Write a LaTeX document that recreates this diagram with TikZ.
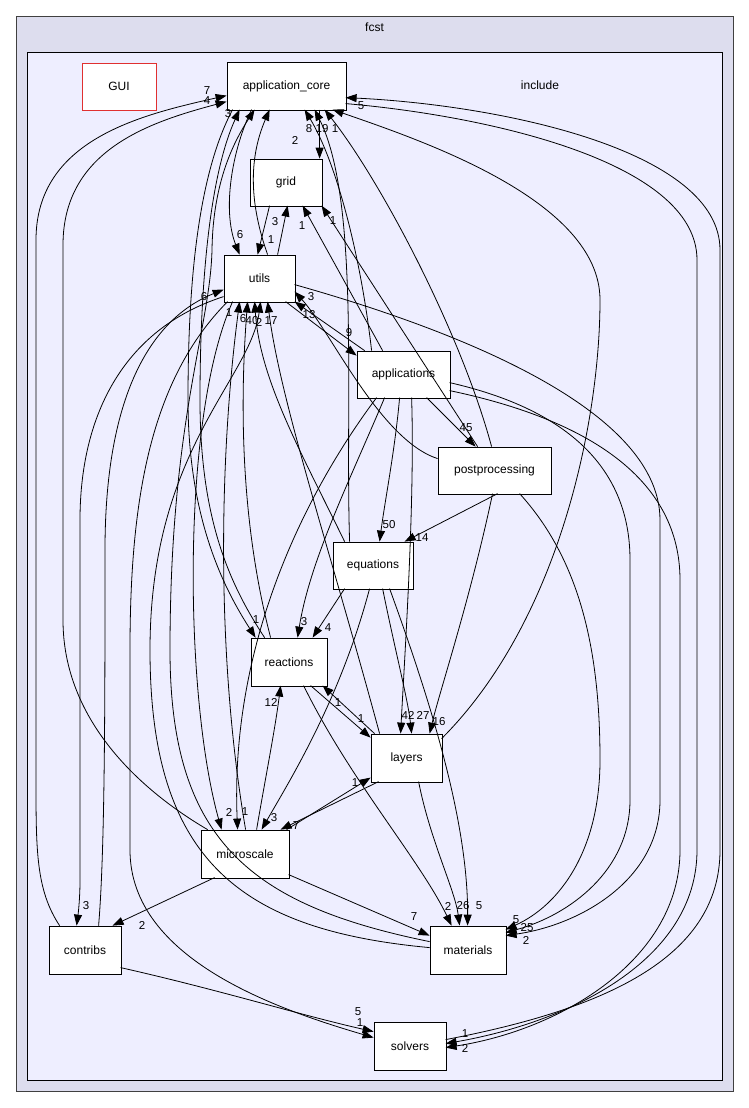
\documentclass[tikz,border=0pt]{standalone}
\usepackage{fontspec}
\setmainfont{Liberation Sans}
\usetikzlibrary{arrows.meta,calc}
\definecolor{outerbg}{HTML}{DDDDEE}
\definecolor{innerbg}{HTML}{EEEEFF}
\definecolor{guired}{HTML}{E03030}
\tikzset{
  box/.style={draw=black, fill=white, line width=0.8pt, inner sep=0pt, minimum height=47pt, font=\fontsize{12}{14}\selectfont},
  dep/.style={line width=0.8pt, -{Triangle[length=11pt,width=8pt]}},
  lbl/.style={font=\fontsize{11.5}{13}\selectfont, inner sep=0pt},
  cluster/.style={inner sep=0pt, line width=0.9pt}
}
\begin{document}
\begin{tikzpicture}[x=1pt,y=-1pt]
\useasboundingbox (0,0) rectangle (749,1108);
\node[cluster, draw=black!75, fill=outerbg, minimum width=717pt, minimum height=1075pt] (fcst) at (374.5,553.5) {};
\node[lbl, font=\fontsize{12}{14}\selectfont] (fcstlbl) at (374.5,27) {fcst};
\node[cluster, draw=black, fill=innerbg, minimum width=695pt, minimum height=1028pt] (include) at (374.5,566) {};
\node[lbl, font=\fontsize{12}{14}\selectfont] (inclbl) at (540,85) {include};

\node[box, draw=guired, minimum width=74pt] (gui) at (119,86.5) {GUI};
\node[box, minimum width=119pt, minimum height=48pt] (app) at (286.5,86) {application\_core};
\node[box, minimum width=72pt] (grid) at (286,182.5) {grid};
\node[box, minimum width=71pt] (utils) at (259.5,278.5) {utils};
\node[box, minimum width=93pt] (appl) at (403.5,374.5) {applications};
\node[box, minimum width=113pt] (post) at (494.5,470.5) {postprocessing};
\node[box, minimum width=80pt] (eq) at (373,565.5) {equations};
\node[box, minimum width=76pt, minimum height=48pt] (react) at (289,662) {reactions};
\node[box, minimum width=71pt, minimum height=48pt] (layers) at (406.5,758) {layers};
\node[box, minimum width=88pt, minimum height=48pt] (micro) at (245,854) {microscale};
\node[box, minimum width=72pt, minimum height=48pt] (contribs) at (85,950) {contribs};
\node[box, minimum width=76pt, minimum height=48pt] (mat) at (468,950) {materials};
\node[box, minimum width=72pt, minimum height=48pt] (solv) at (410,1046) {solvers};

% application_core out
\draw[dep] ($(app.north west)+(93,48)$) -- ($(grid.north west)+(70,0)$);
\draw[dep] ($(app.north west)+(25,48)$) .. controls (232,150) and (222,210) .. ($(utils.north west)+(16,0)$);
\draw[dep] ($(app.north west)+(6,48)$) .. controls (195,180) and (188,300) .. (188,400) .. controls (188,520) and (225,590) .. ($(react.north west)+(5,0)$);
\draw[dep] ($(app.north west)+(119,42)$) .. controls (480,115) and (697,160) .. (697,260) -- (697,850) .. controls (697,960) and (570,1022) .. ($(solv.north west)+(72,22)$);
% grid / utils
\draw[dep] ($(grid.north west)+(20,47)$) -- ($(utils.north west)+(34,0)$);
\draw[dep] ($(utils.north west)+(54,0)$) -- ($(grid.north west)+(38,47)$);
\draw[dep] ($(utils.north west)+(44,0)$) .. controls (250,205) and (248,160) .. ($(app.north west)+(43,48)$);
% into application_core
\draw[dep] ($(contribs.north west)+(11,0)$) .. controls (36,890) and (36,850) .. (36,780) -- (36,240) .. controls (36,140) and (140,115) .. ($(app.north west)+(0,34)$);
\draw[dep] ($(micro.north west)+(7,0)$) .. controls (140,790) and (63,720) .. (63,620) -- (63,245) .. controls (63,150) and (150,122) .. ($(app.north west)+(0,40)$);
\draw[dep] ($(react.north west)+(14,0)$) .. controls (230,585) and (200,520) .. (200,400) .. controls (200,270) and (212,170) .. ($(app.north west)+(13,48)$);
\draw[dep] ($(mat.north west)+(0,16)$) .. controls (250,905) and (170,840) .. (170,650) .. controls (170,420) and (210,330) .. (212,250) .. controls (213,180) and (235,140) .. ($(app.north west)+(28,48)$);
\draw[dep] ($(appl.north west)+(15,0)$) .. controls (360,250) and (335,160) .. ($(app.north west)+(78,48)$);
\draw[dep] ($(eq.north west)+(17,0)$) .. controls (345,400) and (360,200) .. ($(app.north west)+(88,48)$);
\draw[dep] ($(post.north west)+(54,0)$) .. controls (460,330) and (380,180) .. ($(app.north west)+(98,48)$);
\draw[dep] ($(layers.north west)+(71,5)$) .. controls (560,620) and (600,420) .. (600,300) .. controls (600,200) and (420,140) .. ($(app.north west)+(106,48)$);
\draw[dep] ($(solv.north west)+(72,18)$) .. controls (600,1010) and (720,960) .. (720,850) -- (720,250) .. controls (720,150) and (500,105) .. ($(app.north west)+(119,36)$);
% into grid
\draw[dep] ($(post.north west)+(40,0)$) -- ($(grid.north west)+(72,47)$);
\draw[dep] ($(appl.north west)+(26,0)$) -- ($(grid.north west)+(53,47)$);
% utils <-> applications
\draw[dep] ($(utils.north west)+(62,47)$) -- ($(appl.north west)+(0,5)$);
\draw[dep] ($(appl.north west)+(8,0)$) -- ($(utils.north west)+(71,47)$);
\draw[dep] ($(post.north west)+(0,12)$) .. controls (380,440) and (330,330) .. ($(utils.north west)+(71,37)$);
% right side
\draw[dep] ($(utils.north west)+(71,30)$) .. controls (420,320) and (660,400) .. (660,520) -- (660,800) .. controls (660,880) and (580,925) .. ($(mat.north west)+(76,10)$);
\draw[dep] ($(appl.north west)+(93,32)$) .. controls (570,410) and (630,470) .. (630,560) -- (630,800) .. controls (630,870) and (570,915) .. ($(mat.north west)+(76,7)$);
\draw[dep] ($(post.north west)+(82,47)$) .. controls (580,560) and (600,650) .. (600,760) .. controls (600,850) and (560,905) .. ($(mat.north west)+(76,4)$);
\draw[dep] ($(appl.north west)+(93,40)$) .. controls (590,420) and (680,480) .. (680,580) -- (680,850) .. controls (680,960) and (560,1030) .. ($(solv.north west)+(72,26)$);
% applications / postprocessing / equations
\draw[dep] ($(appl.north west)+(70,47)$) -- ($(post.north west)+(38,0)$);
\draw[dep] ($(appl.north west)+(43,47)$) .. controls (395,450) and (385,500) .. ($(eq.north west)+(47,0)$);
\draw[dep] ($(post.north west)+(60,47)$) -- ($(eq.north west)+(72,0)$);
\draw[dep] ($(appl.north west)+(55,47)$) .. controls (415,500) and (405,650) .. ($(layers.north west)+(30,0)$);
\draw[dep] ($(eq.north west)+(50,47)$) .. controls (395,650) and (408,700) .. ($(layers.north west)+(41,0)$);
\draw[dep] ($(post.north west)+(55,47)$) .. controls (470,600) and (440,690) .. ($(layers.north west)+(59,0)$);
\draw[dep] ($(appl.north west)+(28,47)$) .. controls (350,480) and (310,560) .. ($(react.north west)+(47,0)$);
\draw[dep] ($(eq.north west)+(12,47)$) -- ($(react.north west)+(62,0)$);
\draw[dep] ($(appl.north west)+(20,47)$) .. controls (300,500) and (230,650) .. ($(micro.north west)+(37,0)$);
\draw[dep] ($(eq.north west)+(37,47)$) .. controls (340,700) and (290,780) .. ($(micro.north west)+(61,0)$);
% layers / microscale / reactions
\draw[dep] ($(layers.north west)+(8,48)$) -- ($(micro.north west)+(80,0)$);
\draw[dep] ($(micro.north west)+(86,0)$) -- ($(layers.north west)+(0,44)$);
\draw[dep] ($(react.north west)+(60,48)$) -- ($(layers.north west)+(0,4)$);
\draw[dep] ($(layers.north west)+(4,0)$) -- ($(react.north west)+(72,48)$);
\draw[dep] ($(micro.north west)+(56,0)$) .. controls (265,780) and (275,730) .. ($(react.north west)+(30,48)$);
% into materials
\draw[dep] ($(react.north west)+(53,48)$) .. controls (350,780) and (420,860) .. ($(mat.north west)+(22,0)$);
\draw[dep] ($(layers.north west)+(48,48)$) .. controls (430,840) and (455,890) .. ($(mat.north west)+(30,0)$);
\draw[dep] ($(eq.north west)+(57,47)$) .. controls (430,700) and (468,820) .. ($(mat.north west)+(38,0)$);
\draw[dep] ($(micro.north west)+(88,45)$) -- ($(mat.north west)+(0,10)$);
% contribs
\draw[dep] ($(micro.north west)+(14,48)$) -- ($(contribs.north west)+(64,0)$);
\draw[dep] ($(utils.north west)+(0,42)$) .. controls (120,330) and (80,420) .. (80,520) -- (80,880) .. controls (80,900) and (78,915) .. ($(contribs.north west)+(28,0)$);
\draw[dep] ($(contribs.north west)+(50,0)$) .. controls (105,850) and (105,700) .. (105,550) .. controls (105,380) and (160,315) .. ($(utils.north west)+(0,35)$);
% solvers
\draw[dep] ($(contribs.north west)+(72,42)$) .. controls (220,990) and (300,1015) .. ($(solv.north west)+(0,10)$);
\draw[dep] ($(utils.north west)+(4,47)$) .. controls (150,380) and (130,500) .. (130,650) -- (130,850) .. controls (130,960) and (280,1010) .. ($(solv.north west)+(0,16)$);
% utils bottom
\draw[dep] ($(utils.north west)+(9,47)$) .. controls (180,420) and (185,700) .. ($(micro.north west)+(21,0)$);
\draw[dep] ($(micro.north west)+(45,0)$) .. controls (215,650) and (220,450) .. ($(utils.north west)+(16,47)$);
\draw[dep] ($(react.north west)+(20,0)$) .. controls (240,520) and (240,400) .. ($(utils.north west)+(24,47)$);
\draw[dep] ($(eq.north west)+(12,0)$) .. controls (300,450) and (260,380) .. ($(utils.north west)+(31,47)$);
\draw[dep] ($(mat.north west)+(0,22)$) .. controls (240,930) and (150,860) .. (150,650) .. controls (150,450) and (250,380) .. ($(utils.north west)+(37,47)$);
\draw[dep] ($(layers.north west)+(9,0)$) .. controls (330,550) and (280,400) .. ($(utils.north west)+(44,47)$);

% labels
\node[lbl] (l1) at (295,140) {2};
\node[lbl] (l2) at (240,235) {6};
\node[lbl] (l3) at (271,240) {1};
\node[lbl] (l4) at (275,222) {3};
\node[lbl] (l5) at (207,91) {7};
\node[lbl] (l6) at (207,101) {4};
\node[lbl] (l7) at (228,114) {3};
\node[lbl] (l8) at (309,129) {8};
\node[lbl] (l9) at (322,129) {19};
\node[lbl] (l10) at (335,129) {1};
\node[lbl] (l11) at (361,106) {5};
\node[lbl] (l12) at (333,221) {1};
\node[lbl] (l13) at (302,226) {1};
\node[lbl] (l14) at (349,333) {9};
\node[lbl] (l15) at (309,315) {13};
\node[lbl] (l16) at (311,297) {3};
\node[lbl] (l17) at (204,297) {6};
\node[lbl] (l18) at (229,313) {1};
\node[lbl] (l19) at (243,319) {6};
\node[lbl] (l20) at (252,321) {40};
\node[lbl] (l21) at (259,322) {2};
\node[lbl] (l22) at (271,321) {17};
\node[lbl] (l23) at (466,428) {45};
\node[lbl] (l24) at (389,525) {50};
\node[lbl] (l25) at (422,538) {14};
\node[lbl] (l26) at (304,622) {3};
\node[lbl] (l27) at (328,628) {4};
\node[lbl] (l28) at (256,620) {1};
\node[lbl] (l29) at (271,702) {12};
\node[lbl] (l30) at (338,703) {1};
\node[lbl] (l31) at (361,719) {1};
\node[lbl] (l32) at (408,715) {42};
\node[lbl] (l33) at (423,715) {27};
\node[lbl] (l34) at (439,722) {16};
\node[lbl] (l35) at (229,812) {2};
\node[lbl] (l36) at (245,812) {1};
\node[lbl] (l37) at (274,818) {3};
\node[lbl] (l38) at (296,826) {7};
\node[lbl] (l39) at (355,783) {1};
\node[lbl] (l40) at (86,906) {3};
\node[lbl] (l41) at (142,925) {2};
\node[lbl] (l42) at (414,917) {7};
\node[lbl] (l43) at (448,906) {2};
\node[lbl] (l44) at (463,906) {26};
\node[lbl] (l45) at (479,906) {5};
\node[lbl] (l46) at (516,920) {5};
\node[lbl] (l47) at (527,928) {25};
\node[lbl] (l48) at (526,940) {2};
\node[lbl] (l49) at (358,1012) {5};
\node[lbl] (l50) at (360,1023) {1};
\node[lbl] (l51) at (465,1034) {1};
\node[lbl] (l52) at (465,1048) {2};
\end{tikzpicture}
\end{document}
